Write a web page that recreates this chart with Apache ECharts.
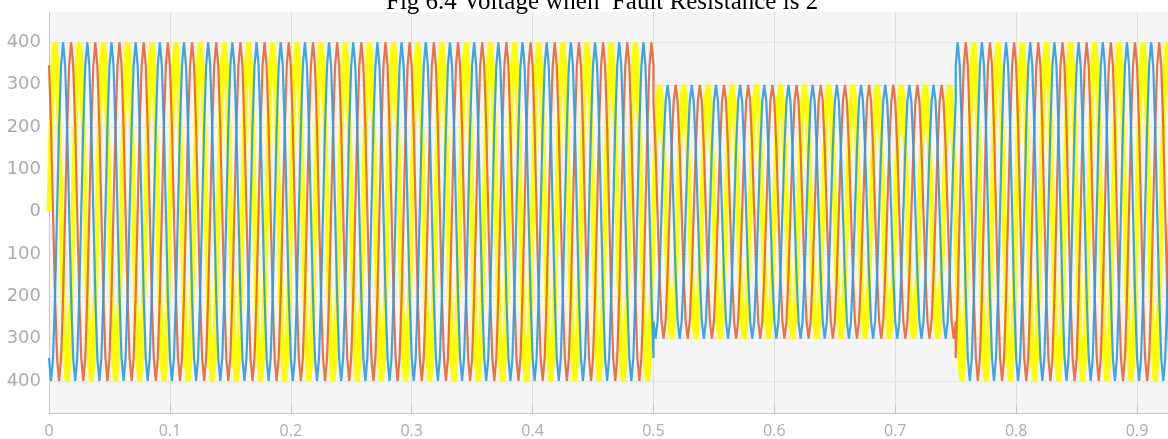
<!DOCTYPE html>
<html>
<head>
<meta charset="utf-8">
<script src="https://cdn.jsdelivr.net/npm/echarts@6/dist/echarts.min.js"></script>
<style>
  html, body { margin: 0; padding: 0; background: #ffffff; }
  #chart { width: 1168px; height: 439px; }
</style>
</head>
<body>
<div id="chart"></div>
<script>
// ---------------- data ----------------
const titleText = 'Fig 6.4 Voltage when  Fault Resistance is 2';
// one 20 ms (50 Hz) cycle sampled every 30 degrees, healthy amplitude ~400 V
const cycleShapeHealthy = [0, 200, 346, 400, 346, 200, 0, -200, -346, -400, -346, -200];
// same cycle during the fault, amplitude ~300 V
const cycleShapeFault = [0, 150, 260, 300, 260, 150, 0, -150, -260, -300, -260, -150];
const samplesPerCycle = 12;
const cycleSeconds = 0.02;
// stages of the simulation (s): before fault, fault, after clearing
const stageStart = [0, 0.5, 0.75];
const stageEnd = [0.5, 0.75, 0.93];
const stageIsFault = [false, true, false];
// three phases: Va (reference), Vb lags 120 deg, Vc leads 120 deg (in 30-degree samples)
const phaseNames = ['Va', 'Vb', 'Vc'];
const phaseShiftSamples = [0, -4, 4];
// tick labels
const xTickValues = [0, 0.1, 0.2, 0.3, 0.4, 0.5, 0.6, 0.7, 0.8, 0.9];
const yTickValues = [-400, -300, -200, -100, 0, 100, 200, 300, 400];

// ---------------- build series from the arrays ----------------
const step = cycleSeconds / samplesPerCycle;
function phaseData(p) {
  const out = [];
  for (let s = 0; s < stageStart.length; s++) {
    const shape = stageIsFault[s] ? cycleShapeFault : cycleShapeHealthy;
    const k0 = Math.round(stageStart[s] / step);
    const k1 = Math.round(stageEnd[s] / step);
    for (let k = k0; k <= k1; k++) {
      const idx = ((k + phaseShiftSamples[p]) % samplesPerCycle + samplesPerCycle) % samplesPerCycle;
      out.push([+(k * step).toFixed(6), shape[idx]]);
    }
  }
  return out;
}

const phaseStyles = [
  { color: '#ffff00', width: 5, opacity: 1, z: 1 },
  { color: '#2a9be6', width: 2.2, opacity: 0.9, z: 3 },
  { color: '#e96a3c', width: 2.2, opacity: 0.95, z: 2 }
];

const series = phaseNames.map((name, p) => ({
  name: name,
  type: 'line',
  data: phaseData(p),
  showSymbol: false,
  symbol: 'none',
  sampling: 'none',
  smooth: false,
  clip: true,
  z: phaseStyles[p].z,
  lineStyle: { color: phaseStyles[p].color, width: phaseStyles[p].width, opacity: phaseStyles[p].opacity },
  itemStyle: { color: phaseStyles[p].color },
  emphasis: { disabled: true },
  animation: false
}));

const chart = echarts.init(document.getElementById('chart'), null, { renderer: 'canvas' });
chart.setOption({
  animation: false,
  backgroundColor: '#ffffff',
  title: {
    text: titleText,
    left: 386,
    top: -10,
    padding: 0,
    textStyle: { fontFamily: 'Liberation Serif', fontSize: 25, fontWeight: 'normal', color: '#000000' }
  },
  grid: {
    left: 49, right: 0, top: 12, bottom: 26,
    containLabel: false,
    outerBoundsMode: 'none',
    show: true,
    backgroundColor: '#f5f5f5',
    borderWidth: 0
  },
  xAxis: {
    type: 'value',
    min: 0,
    max: 0.9256,
    axisLine: { show: true, onZero: false, lineStyle: { color: '#c8c8c8', width: 1 } },
    axisTick: { show: true, inside: true, length: 8, customValues: xTickValues, lineStyle: { color: '#c8c8c8' } },
    axisLabel: {
      customValues: xTickValues,
      margin: 10,
      color: '#acacac',
      fontFamily: 'Open Sans',
      fontSize: 16,
      formatter: v => String(v)
    },
    splitLine: { show: true, lineStyle: { color: '#dedede', width: 1 } }
  },
  yAxis: {
    type: 'value',
    min: -476,
    max: 472,
    axisLine: { show: true, lineStyle: { color: '#c8c8c8', width: 1 } },
    axisTick: { show: false, customValues: yTickValues },
    axisLabel: {
      customValues: yTickValues,
      margin: 8,
      color: '#acacac',
      fontFamily: 'DejaVu Sans',
      fontSize: 18,
      formatter: v => (v < 0 ? '{neg|-}{num|' + Math.abs(v) + '}' : '{num|' + v + '}'),
      rich: {
        neg: { width: 40, align: 'left', color: '#acacac', fontFamily: 'DejaVu Sans', fontSize: 18 },
        num: { color: '#acacac', fontFamily: 'DejaVu Sans', fontSize: 18 }
      }
    },
    splitLine: { show: true, lineStyle: { color: '#e6e6e6', width: 1 } }
  },
  tooltip: { show: false },
  series: series
});
</script>
</body>
</html>
